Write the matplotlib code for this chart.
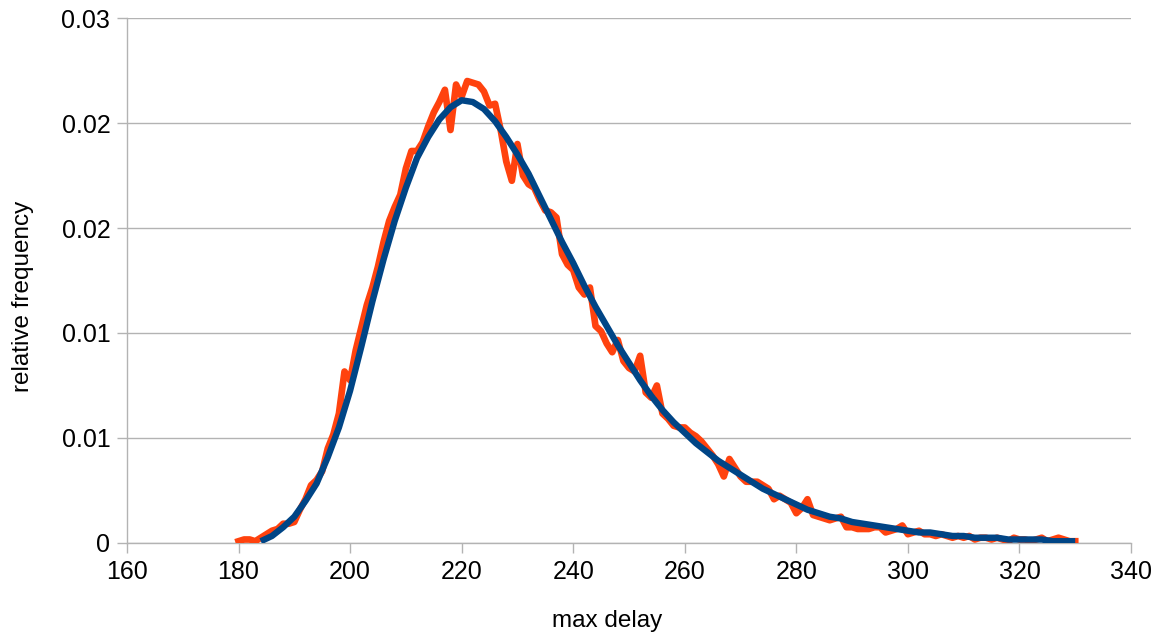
import numpy as np
import matplotlib.pyplot as plt

# measured histogram (1-unit bins)
data_x = list(range(180, 331))
data_y = [
    0.0001, 0.0002, 0.0002, 0.0001, 0.0003, 0.0005, 0.0007, 0.0008, 0.0011, 0.0011,  # 180-189
    0.0012, 0.0019, 0.0025, 0.0033, 0.0036, 0.0041, 0.0054, 0.0062, 0.0074, 0.0098,  # 190-199
    0.0093, 0.0110, 0.0123, 0.0136, 0.0146, 0.0158, 0.0172, 0.0184, 0.0192, 0.0199,  # 200-209
    0.0214, 0.0224, 0.0224, 0.0229, 0.0238, 0.0246, 0.0252, 0.0259, 0.0236, 0.0262,  # 210-219
    0.0255, 0.0264, 0.0263, 0.0262, 0.0258, 0.0250, 0.0251, 0.0236, 0.0218, 0.0207,  # 220-229
    0.0228, 0.0210, 0.0205, 0.0203, 0.0196, 0.0190, 0.0189, 0.0186, 0.0165, 0.0159,  # 230-239
    0.0156, 0.0146, 0.0142, 0.0146, 0.0124, 0.0121, 0.0114, 0.0109, 0.0116, 0.0104,  # 240-249
    0.0100, 0.0098, 0.0107, 0.0086, 0.0083, 0.0090, 0.0074, 0.0071, 0.0067, 0.0066,  # 250-259
    0.0066, 0.0063, 0.0061, 0.0058, 0.0054, 0.0050, 0.0045, 0.0038, 0.0048, 0.0043,  # 260-269
    0.0038, 0.0035, 0.0035, 0.0035, 0.0033, 0.0031, 0.0025, 0.0027, 0.0025, 0.0023,  # 270-279
    0.0017, 0.0020, 0.0025, 0.0016, 0.0015, 0.0014, 0.0013, 0.0014, 0.0015, 0.0009,  # 280-289
    0.0009, 0.0008, 0.0008, 0.0008, 0.0009, 0.0009, 0.0006, 0.0007, 0.0008, 0.0010,  # 290-299
    0.0005, 0.0006, 0.0007, 0.0005, 0.0005, 0.0004, 0.0005, 0.0004, 0.0003, 0.0004,  # 300-309
    0.0003, 0.0004, 0.0002, 0.0003, 0.0003, 0.0002, 0.0003, 0.0002, 0.0001, 0.0003,  # 310-319
    0.0002, 0.0002, 0.0001, 0.0002, 0.0003, 0.0001, 0.0002, 0.0003, 0.0002, 0.0001,  # 320-329
    0.0001,                                                                          # 330
]

# fitted curve
fit_x = list(range(184, 331, 2))
fit_y = [
    0.0001, 0.0004, 0.0009, 0.0015, 0.0024, 0.0034, 0.0049, 0.0066, 0.0087, 0.0112,
    0.0138, 0.0162, 0.0184, 0.0203, 0.0220, 0.0232, 0.0242, 0.0249, 0.0253, 0.0252,
    0.0248, 0.0241, 0.0232, 0.0222, 0.0211, 0.0198, 0.0185, 0.0172, 0.0160, 0.0147,
    0.0135, 0.0124, 0.0113, 0.0103, 0.0093, 0.0084, 0.0076, 0.0069, 0.0063, 0.0057,
    0.0052, 0.0047, 0.0043, 0.0039, 0.0035, 0.0031, 0.0028, 0.0025, 0.0022, 0.0019,
    0.0017, 0.0015, 0.0014, 0.0012, 0.0011, 0.0010, 0.0009, 0.0008, 0.0007, 0.0006,
    0.0006, 0.0005, 0.0004, 0.0004, 0.0003, 0.0003, 0.0003, 0.0002, 0.0002, 0.0002,
    0.0002, 0.0001, 0.0001, 0.0001,
]

x_ticks = [160, 180, 200, 220, 240, 260, 280, 300, 320, 340]
y_ticks = [0, 0.006, 0.012, 0.018, 0.024, 0.03]
y_tick_labels = ['0', '0.01', '0.01', '0.02', '0.02', '0.03']

plt.rcParams['font.family'] = ['Liberation Sans', 'DejaVu Sans']
grey = '#b3b3b3'

fig = plt.figure(figsize=(11.69, 6.37), dpi=100)
ax = fig.add_axes([0.1086, 0.1476, 0.8589, 0.8241])

ax.plot(data_x, data_y, color='#ff420e', lw=4.8, solid_joinstyle='round', zorder=3)
ax.plot(fit_x, fit_y, color='#004586', lw=4.6, solid_capstyle='butt', zorder=4)

ax.set_xlim(160, 340)
ax.set_ylim(0, 0.03)
ax.set_xticks(x_ticks)
ax.set_yticks(y_ticks)
ax.set_yticklabels(y_tick_labels)

ax.yaxis.grid(True, color=grey, lw=1)
ax.set_axisbelow(True)
for s in ['top', 'right']:
    ax.spines[s].set_visible(False)
for s in ['left', 'bottom']:
    ax.spines[s].set_color(grey)
    ax.spines[s].set_linewidth(1)

ax.tick_params(axis='both', colors=grey, length=7, width=1, direction='out',
               labelcolor='black', labelsize=18, pad=5)

ax.set_xlabel('max delay', fontsize=17.5)
ax.set_ylabel('relative frequency', fontsize=17.5)
ax.xaxis.set_label_coords(0.478, -0.128)
ax.yaxis.set_label_coords(-0.093, 0.469)

fig.savefig('out.png', dpi=100)
